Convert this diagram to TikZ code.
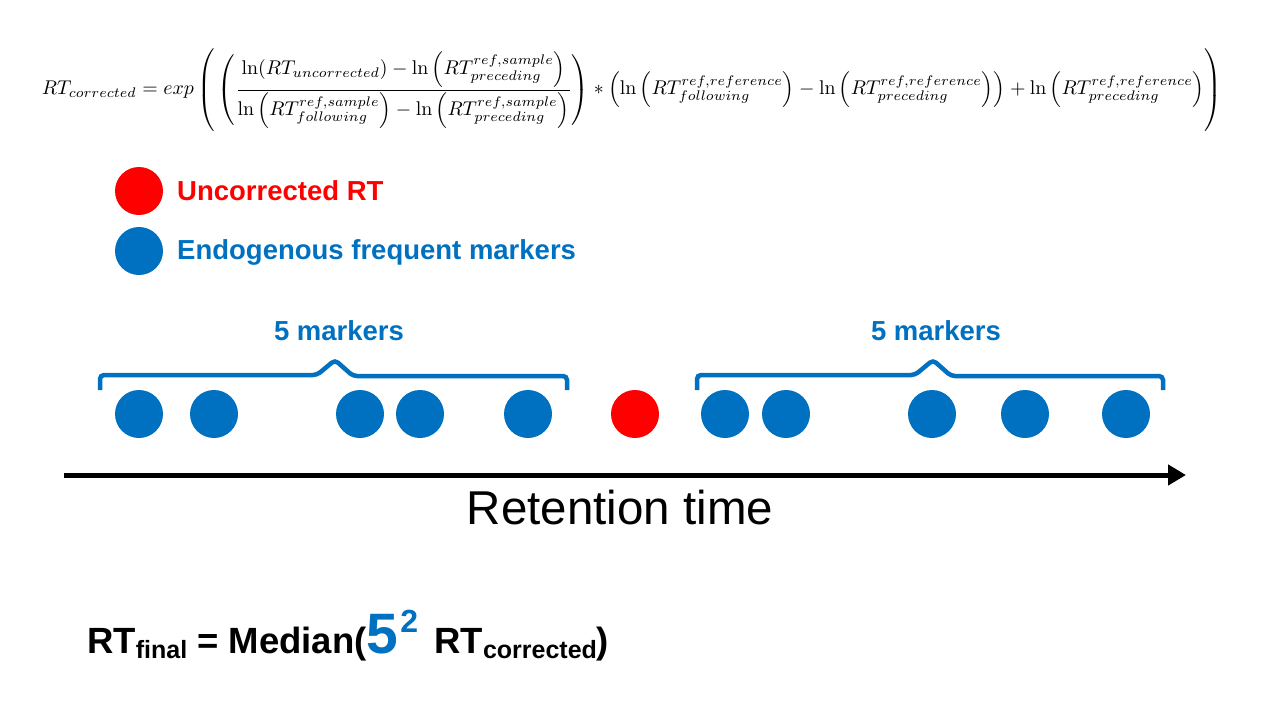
\documentclass[tikz,border=0pt]{standalone}
\usepackage{amsmath,amssymb}
\usepackage[no-math]{fontspec}
\setmainfont{Liberation Sans}
\usepackage{graphicx}
\usepackage{xcolor}
\usetikzlibrary{arrows.meta,positioning}
\definecolor{mred}  {HTML}{FF0000}
\definecolor{mblue} {HTML}{0070C0}
\definecolor{ink}   {HTML}{000000}

\begin{document}
\begin{tikzpicture}[x=1pt,y=-1pt,
    marker/.style={circle,fill=mblue,minimum size=48pt,inner sep=0pt},
    unknown/.style={marker,fill=mred},
    legtext/.style={anchor=base west,inner sep=0pt,font=\fontsize{27.5}{30}\selectfont\bfseries},
    bracket/.style={draw=mblue,line width=4.5pt,rounded corners=4pt},
    bracelabel/.style={text=mblue,font=\fontsize{27.5}{30}\selectfont\bfseries}]
  \useasboundingbox (0,0) rectangle (1280,720);

  % correction formula
  \node[inner sep=0pt] (formula) at (632,90) {\resizebox{1180pt}{!}{$\displaystyle
    RT_{corrected} = exp\left(\rule[-19pt]{0pt}{43pt}\left(\frac{\ln(RT_{uncorrected}) - \ln\left(RT^{ref,sample}_{preceding}\right)}
      {\ln\left(RT^{ref,sample}_{following}\right) - \ln\left(RT^{ref,sample}_{preceding}\right)}\right)
    * \left(\ln\left(RT^{ref,reference}_{following}\right) - \ln\left(RT^{ref,reference}_{preceding}\right)\right)
    + \ln\left(RT^{ref,reference}_{preceding}\right)\right)$}};

  % legend
  \node[unknown] (legred) at (139,191) {};
  \node[marker] (legblue) at (139,251) {};
  \node[legtext,text=mred] (legredtext) at (177,200) {Uncorrected RT};
  \node[legtext,text=mblue] (legbluetext) at (177,259) {Endogenous frequent markers};

  % markers along the retention time axis
  \foreach \x [count=\i] in {139,214,360,420,528}
    \node[marker] (pre\i) at (\x,414) {};
  \node[unknown] (rt) at (635,414) {};
  \foreach \x [count=\i] in {725,786,932,1025,1126}
    \node[marker] (fol\i) at (\x,414) {};

  % braces
  \draw[bracket] (100,390) -- (100,375) -- (317,375) -- (335,360) -- (353,376) -- (567,376) -- (567,390);
  \draw[bracket] (697,390) -- (697,375) -- (915,375) -- (933,360) -- (951,376) -- (1163,376) -- (1163,390);
  \node[bracelabel] (prelabel) at (339,331) {5 markers};
  \node[bracelabel] (follabel) at (936,331) {5 markers};

  % axis
  \coordinate (axstart) at (64,475);
  \coordinate (axend) at (1186,475);
  \draw[draw=ink,line width=5pt,-{Triangle[length=18pt,width=20pt]}] (axstart) -- (axend);
  \node[anchor=base,inner sep=0pt,font=\fontsize{47.5}{50}\selectfont] (axlabel) at (620,524) {Retention time};

  % final value
  \node[anchor=base west,inner sep=0pt,font=\fontsize{36.5}{40}\selectfont\bfseries] (final) at (87,653)
    {RT\raisebox{-5pt}{\fontsize{25}{25}\selectfont final} = Median(\textcolor{mblue}{\fontsize{57}{57}\selectfont 5\hspace{2pt}\raisebox{21pt}{\fontsize{32}{32}\selectfont 2}}\hspace{6pt} RT\raisebox{-5pt}{\fontsize{25}{25}\selectfont corrected})};
\end{tikzpicture}
\end{document}
